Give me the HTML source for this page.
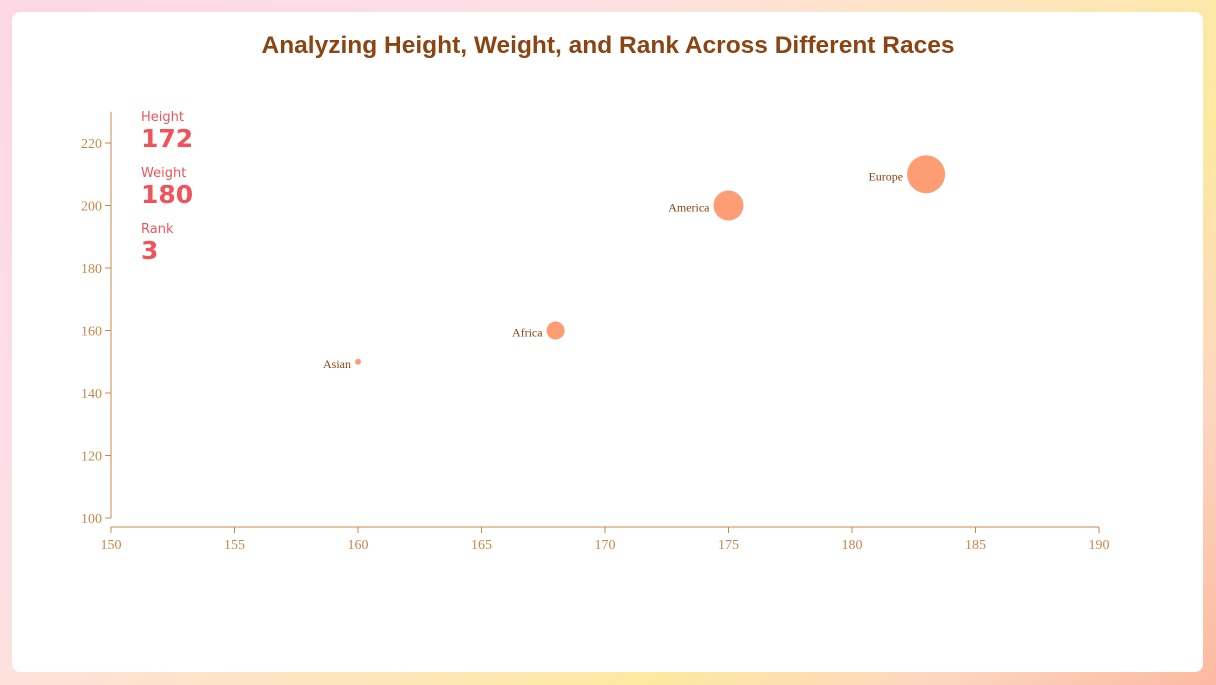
<!DOCTYPE html>
<html><head><meta charset="utf-8"><style>
body{margin:0;width:1216px;height:685px;overflow:hidden;background:linear-gradient(135deg,#fdd7e4 0%,#fde0e6 30%,#fde9a0 70%,#fdd6c0 85%,#fcb9a0 100%);font-family:"Liberation Sans",sans-serif;}
#card{position:absolute;left:12px;top:12px;width:1191px;height:660px;background:#fff;border-radius:8px;}
#title{position:absolute;left:0;top:32px;width:1216px;text-align:center;font-weight:bold;font-size:24.5px;color:#8b4513;}
.stat{position:absolute;left:141px;color:#f0545a;font-family:"Comic Sans MS","DejaVu Sans",sans-serif;}
.lab{font-size:13px;}.val{font-size:25px;font-weight:bold;line-height:28px;}
</style></head><body>
<div id="card"></div>
<div id="title">Analyzing Height, Weight, and Rank Across Different Races</div>
<svg id="chart" width="1216" height="685" style="position:absolute;left:0;top:0"></svg>
<div class="stat" style="top:110px"><div class="lab">Height</div><div class="val">172</div></div>
<div class="stat" style="top:166px"><div class="lab">Weight</div><div class="val">180</div></div>
<div class="stat" style="top:222px"><div class="lab">Rank</div><div class="val">3</div></div>
<script>
const races=["Asian","Africa","America","Europe"];
const heights=[160,168,175,183];
const weights=[150,160,200,210];
const sizes=[3,9,15,19];
const xTicks=[150,155,160,165,170,175,180,185,190];
const yTicks=[100,120,140,160,180,200,220];
const svg=document.getElementById('chart');const NS="http://www.w3.org/2000/svg";
const X=v=>111+(v-150)*(1099-111)/40;
const Y=v=>518-(v-100)*(518-143)/120;
function mk(t,a){const e=document.createElementNS(NS,t);for(const k in a)e.setAttribute(k,a[k]);svg.appendChild(e);return e;}
const ax="#c8884a";
let l=mk('line',{x1:X(150),x2:X(190),y1:527,y2:527,stroke:ax});


l=mk('line',{x1:111,x2:111,y1:Y(230),y2:Y(100),stroke:ax});


xTicks.forEach(v=>{mk('line',{x1:X(v),x2:X(v),y1:527,y2:533,stroke:ax});
const t=mk('text',{x:X(v),y:549,'text-anchor':'middle',fill:ax,'font-size':14,'font-family':'Liberation Serif'});t.textContent=v;

});
yTicks.forEach(v=>{mk('line',{x1:105,x2:111,y1:Y(v),y2:Y(v),stroke:ax});
const t=mk('text',{x:102,y:Y(v)+5,'text-anchor':'end',fill:ax,'font-size':14,'font-family':'Liberation Serif'});t.textContent=v;

});
races.forEach((r,i)=>{const c=mk('circle',{cx:X(heights[i]),cy:Y(weights[i]),r:sizes[i],fill:'#fc9d74'});


const t=mk('text',{x:X(heights[i])-sizes[i]-4,y:Y(weights[i])+6,'text-anchor':'end',fill:'#8b4513','font-size':12,'font-family':'Liberation Serif'});t.textContent=r;

});
</script>
</body></html>
